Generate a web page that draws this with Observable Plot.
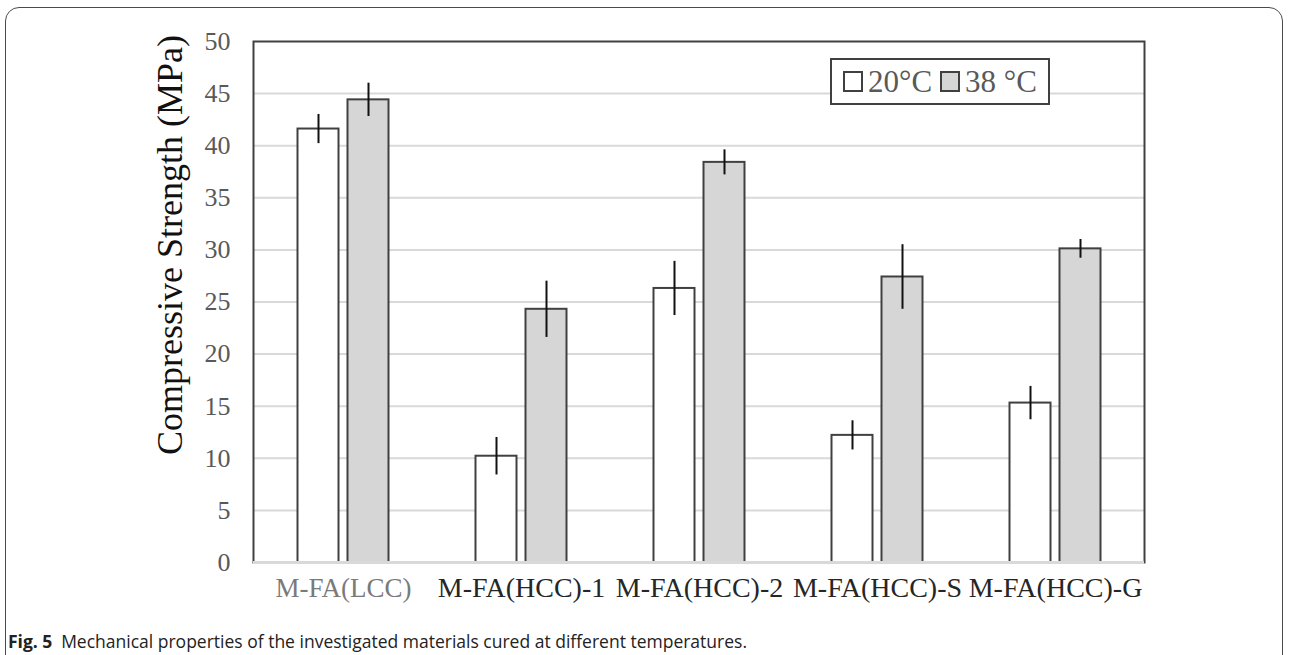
<!DOCTYPE html>
<html>
<head>
<meta charset="utf-8">
<script src="https://cdn.jsdelivr.net/npm/d3@7"></script>
<script src="https://cdn.jsdelivr.net/npm/@observablehq/plot@0.6"></script>
<style>
  html, body { margin: 0; padding: 0; background: #fff; }
  #wrap { position: relative; width: 1290px; height: 655px; overflow: hidden; }
  #border { position: absolute; left: 5px; top: 7px; width: 1278px; height: 720px; border: 1.5px solid #4a4a4a; border-radius: 14px; box-sizing: border-box; }
  #chart { position: absolute; left: 0; top: 0; }
  #legend { position: absolute; left: 830px; top: 58px; width: 220px; height: 47px; border: 2px solid #404040; box-sizing: border-box; background: #fff;
            font-family: "Liberation Serif", serif; font-size: 31px; color: #595959; display: flex; align-items: center; padding-left: 11px; white-space: nowrap; }
  .sw { display: inline-block; width: 16px; height: 17px; border: 2px solid #404040; margin-right: 5px; }
  #caption { position: absolute; left: 8px; top: 629px; font-family: "Open Sans", sans-serif; font-size: 17.5px; line-height: 24px; color: #222; white-space: nowrap; }
</style>
</head>
<body>
<div id="wrap">
  <div id="border"></div>
  <div id="chart"></div>
  <div id="legend"></div>
  <div id="caption"></div>
</div>
<script>
const categories = ["M-FA(LCC)", "M-FA(HCC)-1", "M-FA(HCC)-2", "M-FA(HCC)-S", "M-FA(HCC)-G"];
const seriesNames = ["20°C", "38 °C"];
const mean20 = [41.6, 10.2, 26.3, 12.2, 15.3];
const err20  = [1.4, 1.8, 2.6, 1.4, 1.6];
const mean38 = [44.4, 24.3, 38.4, 27.4, 30.1];
const err38  = [1.6, 2.7, 1.2, 3.1, 0.9];
const yTicks = [0, 5, 10, 15, 20, 25, 30, 35, 40, 45, 50];
const yTitle = "Compressive Strength (MPa)";
const captionBold = "Fig. 5";
const captionText = "Mechanical properties of the investigated materials cured at different temperatures.";

const rows20 = categories.map((c, i) => ({category: c, value: mean20[i], err: err20[i]}));
const rows38 = categories.map((c, i) => ({category: c, value: mean38[i], err: err38[i]}));

const serif = "Liberation Serif, Times New Roman, serif";

const chart = Plot.plot({
  width: 1290,
  height: 620,
  marginLeft: 253,
  marginRight: 146,
  marginTop: 41,
  marginBottom: 58,
  style: {fontFamily: serif, background: "transparent"},
  x: {domain: categories, padding: 0, axis: null},
  y: {domain: [0, 50], axis: null},
  marks: [
    Plot.ruleY(yTicks.filter(t => t > 0 && t < 50), {stroke: "#d9d9d9", strokeWidth: 2}),
    Plot.frame({stroke: "#404040", strokeWidth: 2}),
    Plot.barY(rows20, {x: "category", y: "value", fill: "#ffffff", stroke: "#404040", strokeWidth: 2, insetLeft: 43.5, insetRight: 93.5}),
    Plot.barY(rows38, {x: "category", y: "value", fill: "#d6d6d6", stroke: "#404040", strokeWidth: 2, insetLeft: 93.5, insetRight: 43.5}),
    Plot.ruleY([0], {stroke: "#d9d9d9", strokeWidth: 3}),
    Plot.ruleX(rows20, {x: "category", y1: d => d.value - d.err, y2: d => d.value + d.err, dx: -25, stroke: "#111", strokeWidth: 2}),
    Plot.ruleX(rows38, {x: "category", y1: d => d.value - d.err, y2: d => d.value + d.err, dx: 25, stroke: "#111", strokeWidth: 2}),
    Plot.text(yTicks, {y: d => d, frameAnchor: "left", dx: -23, textAnchor: "end", fontSize: 26, fill: "#595959", fontFamily: serif}),
    Plot.text(categories.slice(0, 1), {x: d => d, frameAnchor: "bottom", dy: 34, fontSize: 27, fill: "#7a7a7a", fontFamily: serif}),
    Plot.text(categories.slice(1), {x: d => d, frameAnchor: "bottom", dy: 34, fontSize: 28, fill: "#262626", fontFamily: serif}),
    Plot.text([yTitle], {text: d => d, frameAnchor: "left", textAnchor: "middle", rotate: -90, dx: -83, dy: -57, fontSize: 36, fill: "#111", fontFamily: serif})
  ]
});
document.getElementById("chart").appendChild(chart);

const legend = document.getElementById("legend");
const fills = ["#ffffff", "#d6d6d6"];
seriesNames.forEach((name, i) => {
  const sw = document.createElement("span");
  sw.className = "sw";
  sw.style.background = fills[i];
  if (i > 0) sw.style.marginLeft = "8px";
  legend.appendChild(sw);
  const t = document.createElement("span");
  t.textContent = name;
  legend.appendChild(t);
});

const cap = document.getElementById("caption");
const b = document.createElement("b");
b.textContent = captionBold;
cap.appendChild(b);
cap.appendChild(document.createTextNode("\u2002" + captionText));
</script>
</body>
</html>
